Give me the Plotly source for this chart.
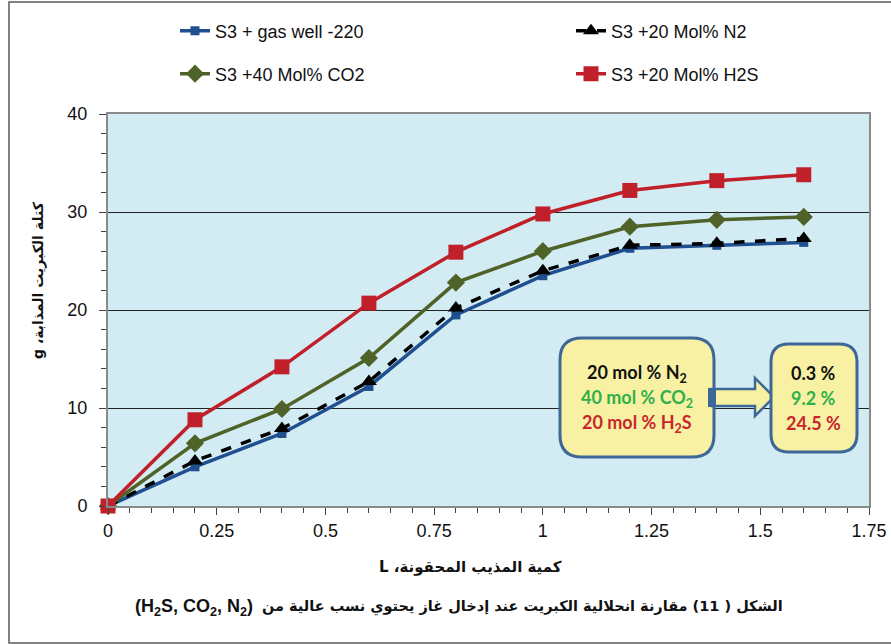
import plotly.graph_objects as go

# ---------------- data ----------------
x_vals = [0, 0.2, 0.4, 0.6, 0.8, 1.0, 1.2, 1.4, 1.6]
gas_well = [0, 4.0, 7.4, 12.2, 19.5, 23.5, 26.3, 26.6, 26.9]
n2_20 = [0, 4.6, 7.9, 12.7, 20.2, 24.0, 26.6, 26.8, 27.3]
co2_40 = [0, 6.4, 9.9, 15.1, 22.8, 26.0, 28.5, 29.2, 29.5]
h2s_20 = [0, 8.8, 14.2, 20.7, 25.9, 29.8, 32.2, 33.2, 33.8]

series_names = ["S3 + gas well -220", "S3 +20 Mol% N2", "S3 +40 Mol% CO2", "S3 +20 Mol% H2S"]

x_tickvals = [0, 0.25, 0.5, 0.75, 1, 1.25, 1.5, 1.75]
x_ticktext = ["0", "0.25", "0.5", "0.75", "1", "1.25", "1.5", "1.75"]
y_tickvals = [0, 10, 20, 30, 40]
y_ticktext = ["0", "10", "20", "30", "40"]

box1_lines = ["20 mol % N<sub>2</sub>", "40 mol % CO<sub>2</sub>", "20 mol % H<sub>2</sub>S"]
box2_lines = ["0.3 %", "9.2 %", "24.5 %"]
box_colors = ["#111111", "#2fb04a", "#c8262c"]

y_title = "\u202Bكتلة الكبريت المذابة، g\u202C"
x_title = "\u202Bكمية المذيب المحقونة، L\u202C"
caption_ar = "الشكل ( 11) مقارنة انحلالية الكبريت عند إدخال غاز يحتوي نسب عالية من"
caption_lat = "(H<sub>2</sub>S, CO<sub>2</sub>, N<sub>2</sub>)"

# ---------------- layout geometry (pixels) ----------------
W, H = 891, 644
L_, R_, T_, B_ = 108, 869, 114, 506
PW, PH = R_ - L_, B_ - T_


def px(xp):
    return (xp - L_) / PW


def py(yp):
    return (B_ - yp) / PH


def rounded_path(x0, y0, x1, y1, r):
    def P(a, b):
        return f"{px(a):.5f},{py(b):.5f}"
    return (f"M {P(x0 + r, y0)} L {P(x1 - r, y0)} Q {P(x1, y0)} {P(x1, y0 + r)} "
            f"L {P(x1, y1 - r)} Q {P(x1, y1)} {P(x1 - r, y1)} "
            f"L {P(x0 + r, y1)} Q {P(x0, y1)} {P(x0, y1 - r)} "
            f"L {P(x0, y0 + r)} Q {P(x0, y0)} {P(x0 + r, y0)} Z")


def poly_path(points):
    return "M " + " L ".join(f"{px(a):.5f},{py(b):.5f}" for a, b in points) + " Z"


FONT = "Liberation Sans, Arial, sans-serif"
AR_FONT = "DejaVu Sans, sans-serif"
BOX_FONT = "Lato, Open Sans, sans-serif"

fig = go.Figure()

styles = [
    dict(line=dict(color="#1f4f8f", width=3.5), marker=dict(symbol="square", size=9, color="#1f4f8f"), legend="legend"),
    dict(line=dict(color="#000000", width=3.5, dash="dash"), marker=dict(symbol="triangle-up", size=14, color="#000000"), legend="legend2"),
    dict(line=dict(color="#4f6228", width=3.5), marker=dict(symbol="diamond", size=14, color="#4f6228"), legend="legend3"),
    dict(line=dict(color="#c0202a", width=3.5), marker=dict(symbol="square", size=15, color="#c0202a"), legend="legend4"),
]
for name, ys, st in zip(series_names, [gas_well, n2_20, co2_40, h2s_20], styles):
    fig.add_trace(go.Scatter(x=x_vals, y=ys, mode="lines+markers", name=name, showlegend=True,
                             line=st["line"], marker=st["marker"], legend=st["legend"],
                             cliponaxis=False))

legend_common = dict(font=dict(family=FONT, size=18, color="#111"), bgcolor="rgba(0,0,0,0)",
                     xanchor="left", yanchor="middle", borderwidth=0, visible=True)
col1_x, col2_x = px(175), px(571)
row1_y, row2_y = py(31), py(74)

shapes = []
# outer frame
shapes.append(dict(type="rect", xref="paper", yref="paper", x0=px(9), x1=px(898), y0=py(2), y1=py(643),
                   line=dict(color="#5a5a5a", width=1.5), fillcolor="rgba(0,0,0,0)", layer="below"))
BOX_FILL = "#f8f1a3"
BOX_LINE = "#3c6796"
shapes.append(dict(type="path", xref="paper", yref="paper", path=rounded_path(560, 338, 714, 457, 22),
                   fillcolor=BOX_FILL, line=dict(color=BOX_LINE, width=3)))
shapes.append(dict(type="path", xref="paper", yref="paper",
                   path=poly_path([(712, 389), (755, 389), (755, 378), (774, 397), (755, 416), (755, 406), (712, 406)]),
                   fillcolor=BOX_FILL, line=dict(color=BOX_LINE, width=2.5)))
shapes.append(dict(type="rect", xref="paper", yref="paper", x0=px(708), x1=px(716), y0=py(388), y1=py(407),
                   fillcolor=BOX_LINE, line=dict(width=0)))
shapes.append(dict(type="path", xref="paper", yref="paper", path=rounded_path(771, 344, 857, 452, 18),
                   fillcolor=BOX_FILL, line=dict(color=BOX_LINE, width=3)))

annotations = []
for i, (t1, t2, c) in enumerate(zip(box1_lines, box2_lines, box_colors)):
    yy = py(373 + 25 * i)
    annotations.append(dict(xref="paper", yref="paper", x=px(637), y=yy, text=f"<b>{t1}</b>", showarrow=False,
                            font=dict(family=BOX_FONT, size=18, color=c), xanchor="center", yanchor="middle"))
    annotations.append(dict(xref="paper", yref="paper", x=px(813), y=yy, text=f"<b>{t2}</b>", showarrow=False,
                            font=dict(family=BOX_FONT, size=18, color=c), xanchor="center", yanchor="middle"))

annotations.append(dict(xref="paper", yref="paper", x=px(38), y=py(280), text=f"<b>{y_title}</b>", textangle=-90,
                        showarrow=False, font=dict(family=AR_FONT, size=14, color="#111"),
                        xanchor="center", yanchor="middle"))
annotations.append(dict(xref="paper", yref="paper", x=px(470), y=py(567), text=f"<b>{x_title}</b>",
                        showarrow=False, font=dict(family=AR_FONT, size=15, color="#111"),
                        xanchor="center", yanchor="middle"))
annotations.append(dict(xref="paper", yref="paper", x=px(255), y=py(607), text=f"<b>{caption_lat}</b>",
                        showarrow=False, font=dict(family=FONT, size=18, color="#111"),
                        xanchor="right", yanchor="middle"))
annotations.append(dict(xref="paper", yref="paper", x=px(260), y=py(607), text=f"<b>{caption_ar}</b>",
                        showarrow=False, font=dict(family=AR_FONT, size=14.5, color="#111"),
                        xanchor="left", yanchor="middle"))

fig.update_layout(
    width=W, height=H,
    margin=dict(l=L_, r=W - R_, t=T_, b=H - B_, pad=0, autoexpand=False),
    showlegend=True,
    paper_bgcolor="white",
    plot_bgcolor="#d3ecf4",
    font=dict(family=FONT, size=18, color="#111"),
    legend=dict(**legend_common, x=col1_x, y=row1_y),
    legend2=dict(**legend_common, x=col2_x, y=row1_y),
    legend3=dict(**legend_common, x=col1_x, y=row2_y),
    legend4=dict(**legend_common, x=col2_x, y=row2_y),
    shapes=shapes,
    annotations=annotations,
    xaxis=dict(range=[0, 1.75], tickvals=x_tickvals, ticktext=x_ticktext, ticks="outside", ticklen=7,
               tickwidth=1, tickcolor="#444", showline=True, linecolor="#8a8a8a", linewidth=2, mirror=True,
               showgrid=False, zeroline=False, tickfont=dict(size=18, family=FONT, color="#111"),
               minor=dict(dtick=0.05, ticks="outside", ticklen=5, tickcolor="#444", showgrid=False),
               ticklabelstandoff=0),
    yaxis=dict(range=[0, 40], tickvals=y_tickvals, ticktext=y_ticktext, ticks="outside", ticklen=7,
               tickwidth=1, tickcolor="#444", showline=True, linecolor="#8a8a8a", linewidth=2, mirror=True,
               showgrid=True, gridcolor="#222", gridwidth=1, zeroline=False,
               tickfont=dict(size=18, family=FONT, color="#111"),
               minor=dict(dtick=2, ticks="outside", ticklen=5, tickcolor="#444", showgrid=False),
               ticklabelstandoff=8),
)

fig.write_html("out.html", config={"displayModeBar": False},
               post_script="document.body.style.margin='0px';document.body.style.overflow='hidden';")
